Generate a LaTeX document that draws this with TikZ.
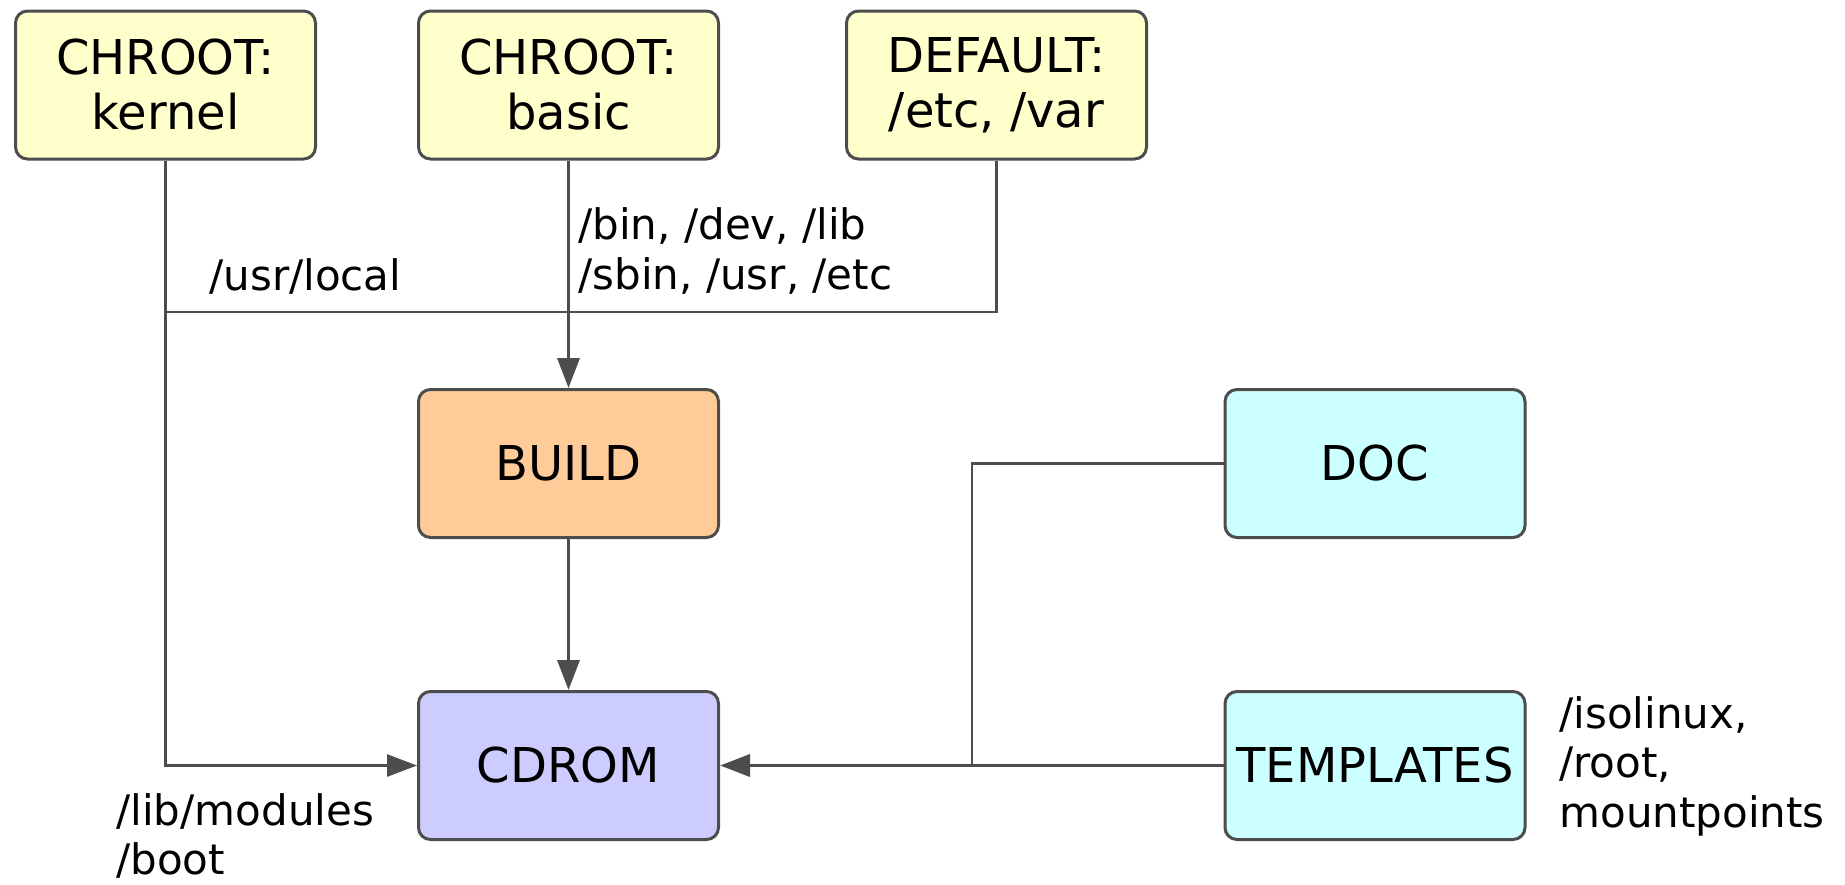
\documentclass[tikz,border=0pt]{standalone}
\usepackage{fontspec}
\setmainfont{DejaVu Sans}
\usetikzlibrary{arrows.meta}

\definecolor{edgegray}{HTML}{4D4D4D}
\definecolor{chrootfill}{HTML}{FFFFCC}
\definecolor{buildfill}{HTML}{FFCC99}
\definecolor{cdromfill}{HTML}{CCCCFF}
\definecolor{extrafill}{HTML}{CCFFFF}

\begin{document}
\begin{tikzpicture}[x=0.5pt,y=-0.5pt,
  dirbox/.style={draw=edgegray, line width=1.5pt, rounded corners=6pt,
    minimum width=150pt, minimum height=74pt, align=center,
    font=\fontsize{24}{27.5}\selectfont},
  wire/.style={draw=edgegray, line width=1.4pt},
  feed/.style={wire, line width=1.8pt, -{Triangle[length=15pt,width=11pt]}},
  pathlbl/.style={align=left, anchor=west, inner sep=0pt,
    font=\fontsize{21}{24.7}\selectfont}]
  \useasboundingbox (0,0) rectangle (1845,884);

  % source trees
  \node[dirbox, fill=chrootfill] (kernel) at (165.5, 85) {CHROOT:\\kernel};
  \node[dirbox, fill=chrootfill] (basic) at (568.5, 85) {CHROOT:\\basic};
  \node[dirbox, fill=chrootfill] (default) at (996.5, 85) {DEFAULT:\\/etc, /var};

  \node[dirbox, fill=buildfill] (build) at (568.5, 463.5) {BUILD};
  \node[dirbox, fill=cdromfill] (cdrom) at (568.5, 765.5) {CDROM};
  \node[dirbox, fill=extrafill] (doc) at (1375, 463.5) {DOC};
  \node[dirbox, fill=extrafill] (templates) at (1375, 765.5) {TEMPLATES};

  \coordinate (usrjoin) at (165.5, 312);
  \coordinate (docjoin) at (972, 765.5);

  \draw[wire] (default.south) |- (usrjoin);
  \draw[wire, -{Triangle[length=15pt,width=11pt]}] (kernel.south) |- (cdrom.west);
  \draw[feed] (basic.south) -- (build.north);
  \draw[feed] (build.south) -- (cdrom.north);
  \draw[wire] (doc.west) -| (docjoin);
  \draw[feed] (templates.west) -- (cdrom.east);

  \node[pathlbl] at (209, 276) {/usr/local};
  \node[pathlbl] at (578, 251) {/bin, /dev, /lib\\/sbin, /usr, /etc};
  \node[pathlbl] at (116, 836) {/lib/modules\\/boot};
  \node[pathlbl] at (1559, 766) {/isolinux,\\/root,\\mountpoints};
\end{tikzpicture}
\end{document}
